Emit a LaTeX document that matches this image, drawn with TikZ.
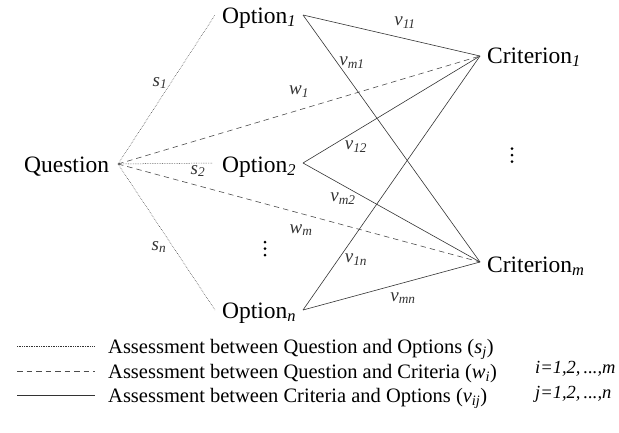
\documentclass[tikz,border=0pt]{standalone}
\usepackage{fontspec}
\setmainfont{Liberation Serif}
\newcommand{\isub}[1]{\textsubscript{\itshape #1}}
\tikzset{
  nodetext/.style={font=\fontsize{23.5}{26}\selectfont, inner sep=0pt},
  lbl/.style={font=\fontsize{19}{22}\selectfont\itshape, inner sep=0pt, text=black!80},
  legtext/.style={font=\fontsize{20.5}{23}\selectfont, inner sep=0pt, anchor=base west},
  rangetext/.style={font=\fontsize{18.5}{21}\selectfont\itshape, inner sep=0pt, anchor=base west},
  sline/.style={line width=0.5pt, black!80, dash pattern=on 0.6pt off 1.1pt},
  wline/.style={line width=0.6pt, black!70, dash pattern=on 5.5pt off 4pt},
  vline/.style={line width=0.6pt, black!80},
  dotmark/.style={fill=black, draw=none},
}
\begin{document}
\begin{tikzpicture}[x=1pt,y=-1pt]
\useasboundingbox (0,0) rectangle (619,432);
% text nodes
\node[nodetext, anchor=base west] (q)  at (24,172) {Question};
\node[nodetext, anchor=base west] (o1) at (222,23) {Option\isub{1}};
\node[nodetext, anchor=base west] (o2) at (222,172) {Option\isub{2}};
\node[nodetext, anchor=base west] (on) at (222,318) {Option\isub{n}};
\node[nodetext, anchor=base west] (c1) at (487,63) {Criterion\isub{1}};
\node[nodetext, anchor=base west] (cm) at (487,272) {Criterion\isub{m}};
% connection points
\coordinate (qR) at (118,164);
\coordinate (o1L) at (215,15);
\coordinate (o2L) at (213,163);
\coordinate (onL) at (215,310);
\coordinate (o1R) at (303,15);
\coordinate (o2R) at (303,163);
\coordinate (onR) at (303,310);
\coordinate (c1L) at (480,56);
\coordinate (cmL) at (480,262);
% dotted
\draw[sline] (qR) -- (o1L);
\draw[sline] (qR) -- (o2L);
\draw[sline] (qR) -- (onL);
% dashed
\draw[wline] (qR) -- (c1L);
\draw[wline] (qR) -- (cmL);
% solid
\draw[vline] (o1R) -- (c1L);
\draw[vline] (o1R) -- (cmL);
\draw[vline] (o2R) -- (c1L);
\draw[vline] (o2R) -- (cmL);
\draw[vline] (onR) -- (c1L);
\draw[vline] (onR) -- (cmL);
% labels
\node[lbl] (ls1) at (160,83) {s\isub{1}};
\node[lbl] (ls2) at (198,171) {s\isub{2}};
\node[lbl] (lsn) at (159,247) {s\isub{n}};
\node[lbl] (lw1) at (299,92) {w\isub{1}};
\node[lbl] (lwm) at (301,230) {w\isub{m}};
\node[lbl] (lv11) at (405,23) {v\isub{11}};
\node[lbl] (lvm1) at (352,63) {v\isub{m1}};
\node[lbl] (lv12) at (356,147) {v\isub{12}};
\node[lbl] (lvm2) at (343,199) {v\isub{m2}};
\node[lbl] (lv1n) at (356,260) {v\isub{1n}};
\node[lbl] (lvmn) at (403,298) {v\isub{mn}};
% vertical ellipses
\foreach \yy in {148.5,155,161.5} \fill[dotmark] (512,\yy) circle (1.5);
\foreach \yy in {242,248.5,255} \fill[dotmark] (265,\yy) circle (1.5);
% legend
\coordinate (l1a) at (17,346); \coordinate (l1b) at (95,346);
\coordinate (l2a) at (17,371); \coordinate (l2b) at (95,371);
\coordinate (l3a) at (17,395); \coordinate (l3b) at (95,395);
\draw[sline] (l1a) -- (l1b);
\draw[wline] (l2a) -- (l2b);
\draw[vline] (l3a) -- (l3b);
\node[legtext] (t1) at (108,353) {Assessment between Question and Options (\textit{s}\isub{j})};
\node[legtext] (t2) at (108,378) {Assessment between Question and Criteria (\textit{w}\isub{i})};
\node[legtext] (t3) at (108,402) {Assessment between Criteria and Options (\textit{v}\isub{ij})};
\node[rangetext] (ri) at (535,373) {i=1,2,\,...,m};
\node[rangetext] (rj) at (535,398) {j=1,2,\,...,n};
\end{tikzpicture}
\end{document}
